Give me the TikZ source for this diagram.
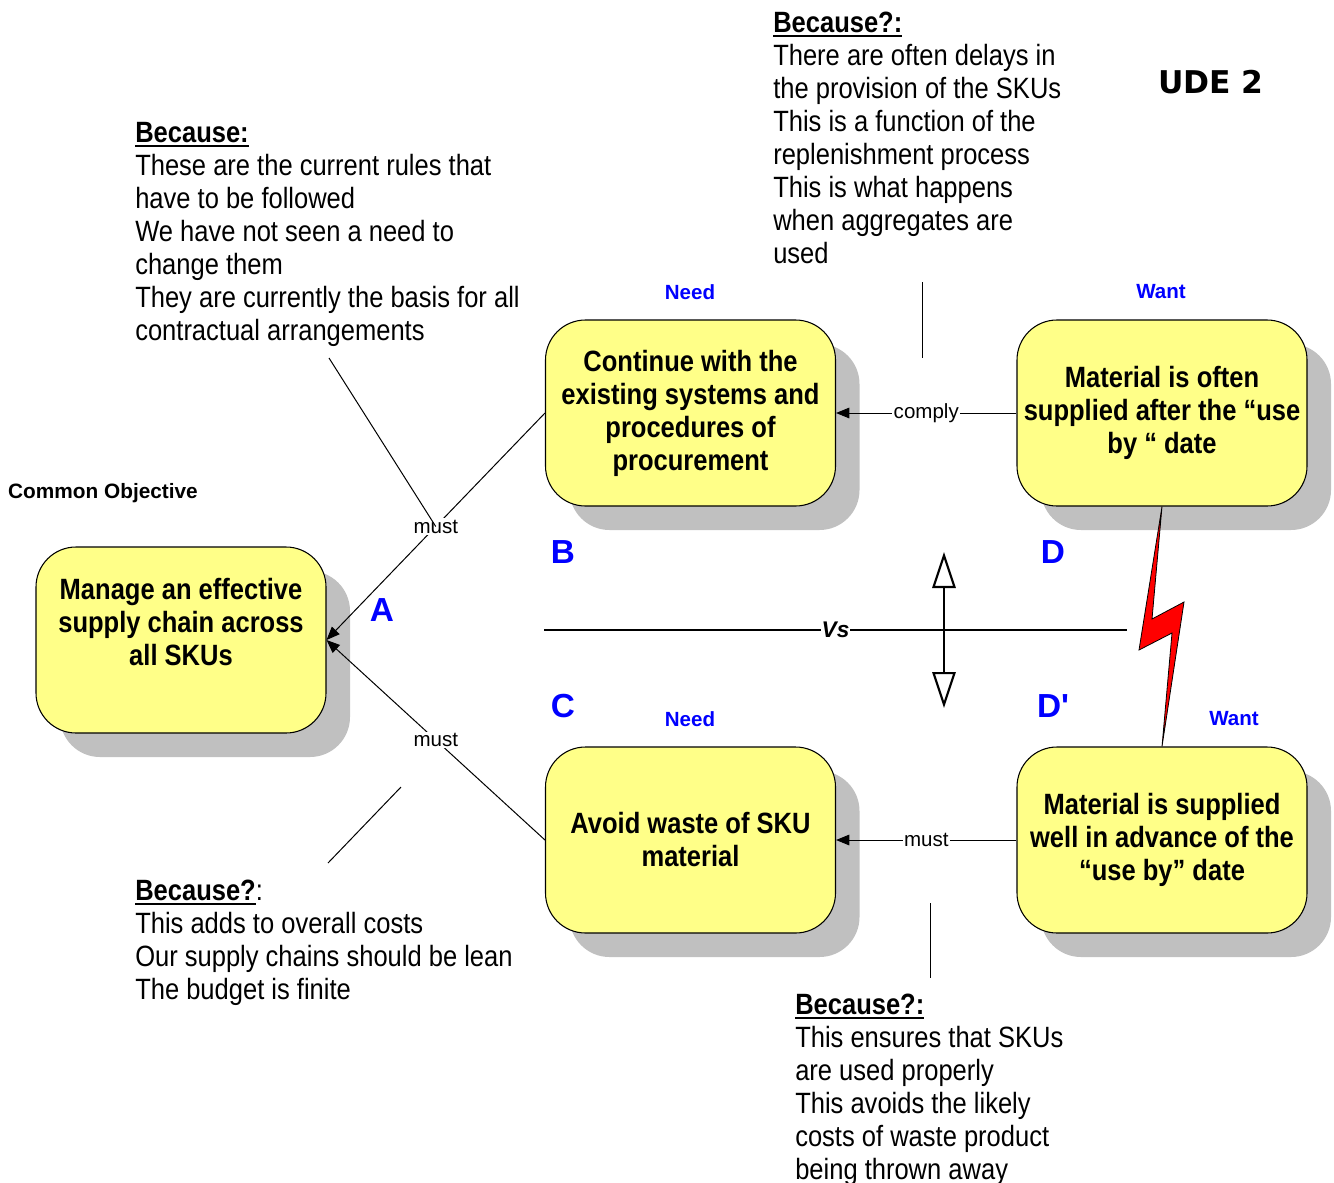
\documentclass[tikz,border=0pt]{standalone}
\usepackage{fontspec}
\setmainfont[Ligatures=TeXOff]{Liberation Sans}
\newfontfamily\bodyfont[FakeStretch=0.87,Ligatures=TeXOff]{Liberation Sans}
\newfontfamily\udefont{DejaVu Sans}
\usetikzlibrary{arrows.meta,calc}

\definecolor{boxyellow}{RGB}{255,255,136}
\definecolor{shadowgray}{RGB}{192,192,192}
\definecolor{labelblue}{RGB}{0,0,255}
\definecolor{boltred}{RGB}{255,0,0}

% underline with a heavier bar than \underline
\newcommand\undl[1]{\leavevmode\vtop{\hbox{#1}\kern2pt\hrule height 1.4pt}}

\tikzset{
  cloudbox/.style={draw=black, line width=0.8pt, fill=boxyellow,
    rounded corners=30pt, minimum width=217.5pt, minimum height=139.5pt,
    inner sep=0pt, align=center,
    font=\bodyfont\bfseries\fontsize{22pt}{24.75pt}\selectfont,
    preaction={draw=none, fill=shadowgray,
      transform canvas={xshift=18pt, yshift=-18pt}}},
  boxtext/.style={inner sep=0pt, align=center,
    font=\bodyfont\bfseries\fontsize{22pt}{24.75pt}\selectfont},
  % anchored at the baseline of the last line
  because/.style={anchor=base west, align=left, inner sep=0pt,
    font=\bodyfont\fontsize{22pt}{24.75pt}\selectfont},
  conn/.style={line width=0.75pt, -{Triangle[length=10pt, width=8pt]}},
  connlabel/.style={fill=white, inner sep=1pt,
    font=\fontsize{15.4pt}{18pt}\selectfont},
  thinline/.style={line width=0.75pt},
  tag/.style={text=labelblue, inner sep=0pt,
    font=\bfseries\fontsize{15.4pt}{18pt}\selectfont},
  letter/.style={text=labelblue, inner sep=0pt,
    font=\bfseries\fontsize{25pt}{30pt}\selectfont},
}

\begin{document}
\begin{tikzpicture}[x=0.75pt, y=-0.75pt]
\useasboundingbox (0,0) rectangle (1334,1182);

% the five entity boxes
\node[cloudbox] (A)  at (181,640) {};
\node[boxtext]  (At) at (181,622) {Manage an effective\\supply chain across\\all SKUs};
\node[cloudbox] (B)  at (690.5,413) {Continue with the\\existing systems and\\procedures of\\procurement};
\node[cloudbox] (D)  at (1162,413) {Material is often\\supplied after the “use\\by “ date};
\node[cloudbox] (C)  at (690.5,840) {Avoid waste of SKU\\material};
\node[cloudbox] (Dp) at (1162,840) {Material is supplied\\well in advance of the\\“use by” date};

% headings and letters
\node[inner sep=0pt, font=\bfseries\fontsize{15.6pt}{18pt}\selectfont] (obj) at (103,493) {Common Objective};
\node[tag] (needB) at (690,292) {Need};
\node[tag] (wantD) at (1161,292) {Want};
\node[tag] (needC) at (690,719) {Need};
\node[tag] (wantDp) at (1234,719) {Want};
\node[letter] (lA) at (382,610) {A};
\node[letter] (lB) at (563,552) {B};
\node[letter] (lC) at (563,706) {C};
\node[letter] (lD) at (1053,552) {D};
\node[letter] (lDp) at (1053,706) {D'};
\node[inner sep=0pt, font=\udefont\bfseries\fontsize{23.5pt}{27pt}\selectfont] (ude) at (1211,82) {UDE 2};

% connectors
\draw[conn] (B.west) -- node[connlabel] (m1) {must} (A.east);
\draw[conn] (C.west) -- node[connlabel] (m2) {must} (A.east);
\draw[conn] (D.west) -- node[connlabel] (m3) {comply} (B.east);
\draw[conn] (Dp.west) -- node[connlabel] (m4) {must} (C.east);

% assumption texts
\node[because] (why1) at (135,340.5) {\undl{\bfseries Because:}\\These are the current rules that\\have to be followed\\We have not seen a need to\\change them\\They are currently the basis for all\\contractual arrangements};
\node[because] (why2) at (773,263.5) {\undl{\bfseries Because?:}\\There are often delays in\\the provision of the SKUs\\This is a function of the\\replenishment process\\This is what happens\\when aggregates are\\used};
\node[because] (why3) at (135,999.5) {\undl{\bfseries Because?}:\\This adds to overall costs\\Our supply chains should be lean\\The budget is finite};
\node[because] (why4) at (795,1179.5) {\undl{\bfseries Because?:}\\This ensures that SKUs\\are used properly\\This avoids the likely\\costs of waste product\\being thrown away};

% pointer lines from the assumption texts
\coordinate (p1) at (329,358);
\draw[thinline] (p1) -- (m1.center);
\coordinate (p2a) at (922,282);
\coordinate (p2b) at (922,358);
\draw[thinline] (p2a) -- (p2b);
\coordinate (p3a) at (401,787);
\coordinate (p3b) at (328,863);
\draw[thinline] (p3a) -- (p3b);
\coordinate (p4a) at (930,903);
\coordinate (p4b) at (930,978);
\draw[thinline] (p4a) -- (p4b);

% conflict line and double arrow
\coordinate (vsL) at (544,630);
\coordinate (vsR) at (1127,630);
\draw[line width=2pt] (vsL) -- node[fill=white, inner sep=0.5pt,
  font=\bfseries\itshape\fontsize{17pt}{20pt}\selectfont] (vs) {Vs} (vsR);
\coordinate (up) at (944,552);
\coordinate (dn) at (944,708);
\draw[line width=1.6pt,
  {Triangle[open, length=27pt, width=17.5pt]}-{Triangle[open, length=27pt, width=17.5pt]}]
  (up) -- (dn);

% lightning bolt between D and D'
\draw[fill=boltred, line width=0.6pt, line join=miter]
  (D.south) -- (1152,619) -- (1184,602) -- (Dp.north) -- (1172,633) -- (1139,650) -- cycle;
\end{tikzpicture}
\end{document}
